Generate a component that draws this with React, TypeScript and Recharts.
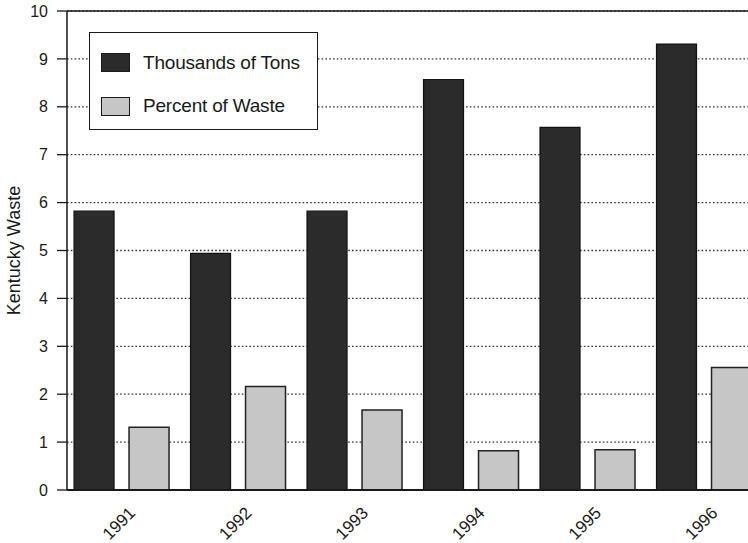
import React from 'react';
import { BarChart, Bar, XAxis, YAxis, CartesianGrid, Legend, ReferenceLine } from 'recharts';

// Kentucky waste by year
const years = [1991, 1992, 1993, 1994, 1995, 1996];
const thousandsOfTons = [5.82, 4.94, 5.82, 8.57, 7.57, 9.31];
const percentOfWaste = [1.31, 2.16, 1.67, 0.82, 0.84, 2.56];
const yTicks = [0, 1, 2, 3, 4, 5, 6, 7, 8, 9, 10];

const seriesNames = { tons: 'Thousands of Tons', percent: 'Percent of Waste' };
const legendOrder = [seriesNames.tons, seriesNames.percent];

const data = years.map((year, i) => ({
  year,
  tons: thousandsOfTons[i],
  percent: percentOfWaste[i],
}));

const FONT = '"Liberation Sans", Arial, Helvetica, sans-serif';
const INK = '#1a1a1a';
const DARK = '#2b2b2b';
const LIGHT = '#c6c6c6';

const YearTick = (props: any) => {
  const { x, y, payload } = props;
  const ax = x + 15;
  const ay = y + 24;
  return (
    <text
      x={ax}
      y={ay}
      transform={`rotate(-45, ${ax}, ${ay})`}
      textAnchor="end"
      fontSize={17}
      fontFamily={FONT}
      fill={INK}
    >
      {payload.value}
    </text>
  );
};

const LegendBox = (props: any) => {
  const items = [...(props.payload || [])].sort(
    (a: any, b: any) => legendOrder.indexOf(a.value) - legendOrder.indexOf(b.value)
  );
  return (
    <div
      style={{
        position: 'relative',
        width: 229,
        height: 98,
        boxSizing: 'border-box',
        border: `1.5px solid ${INK}`,
        background: '#fff',
        fontFamily: FONT,
      }}
    >
      {items.map((item: any, i: number) => (
        <div
          key={item.value}
          style={{
            position: 'absolute',
            left: 11,
            top: 19 + i * 43.5,
            height: 21,
            display: 'flex',
            alignItems: 'center',
          }}
        >
          <span
            style={{
              display: 'inline-block',
              width: 29,
              height: 19,
              boxSizing: 'border-box',
              background: item.color,
              border: `1.5px solid ${INK}`,
              marginRight: 13,
            }}
          />
          <span style={{ fontSize: 19, color: INK, letterSpacing: -0.2 }}>{item.value}</span>
        </div>
      ))}
    </div>
  );
};

export default function App() {
  return (
    <div
      style={{
        position: 'absolute',
        left: 0,
        top: 0,
        width: 748,
        height: 543,
        overflow: 'hidden',
        background: '#fff',
      }}
    >
      <BarChart
        width={762}
        height={543}
        data={data}
        margin={{ top: 11, right: 0, bottom: 0, left: 0 }}
        barGap={15}
        style={{ fontFamily: FONT }}
      >
        <CartesianGrid
          vertical={false}
          stroke="#333"
          strokeWidth={1.3}
          strokeDasharray="1.6 2.2"
        />
        <XAxis
          type="number"
          dataKey="year"
          domain={[1990.534, 1996.5]}
          ticks={years}
          interval={0}
          height={53}
          tickLine={false}
          tickSize={0}
          tickMargin={0}
          axisLine={{ stroke: INK, strokeWidth: 2 }}
          tick={<YearTick />}
          allowDataOverflow
        />
        <YAxis
          type="number"
          domain={[0, 10]}
          ticks={yTicks}
          interval={0}
          width={67}
          tickSize={10}
          tickMargin={9}
          axisLine={{ stroke: INK, strokeWidth: 1.5 }}
          tickLine={{ stroke: INK, strokeWidth: 1.3 }}
          tick={{ fontSize: 16, fill: INK, fontFamily: FONT }}
          label={{
            value: 'Kentucky Waste',
            angle: -90,
            position: 'center',
            dx: -20,
            fontSize: 18,
            fill: INK,
            fontFamily: FONT,
          }}
        />
        <ReferenceLine y={10} stroke={INK} strokeWidth={1.5} />
        <Legend
          layout="vertical"
          align="center"
          verticalAlign="middle"
          wrapperStyle={{ left: 89, top: 32, width: 229, height: 98 }}
          content={<LegendBox />}
        />
        <Bar
          dataKey="tons"
          name={seriesNames.tons}
          fill={DARK}
          stroke="#111"
          strokeWidth={1.2}
          barSize={40}
          isAnimationActive={false}
        />
        <Bar
          dataKey="percent"
          name={seriesNames.percent}
          fill={LIGHT}
          stroke="#222"
          strokeWidth={1.5}
          barSize={40}
          isAnimationActive={false}
        />
      </BarChart>
    </div>
  );
}
